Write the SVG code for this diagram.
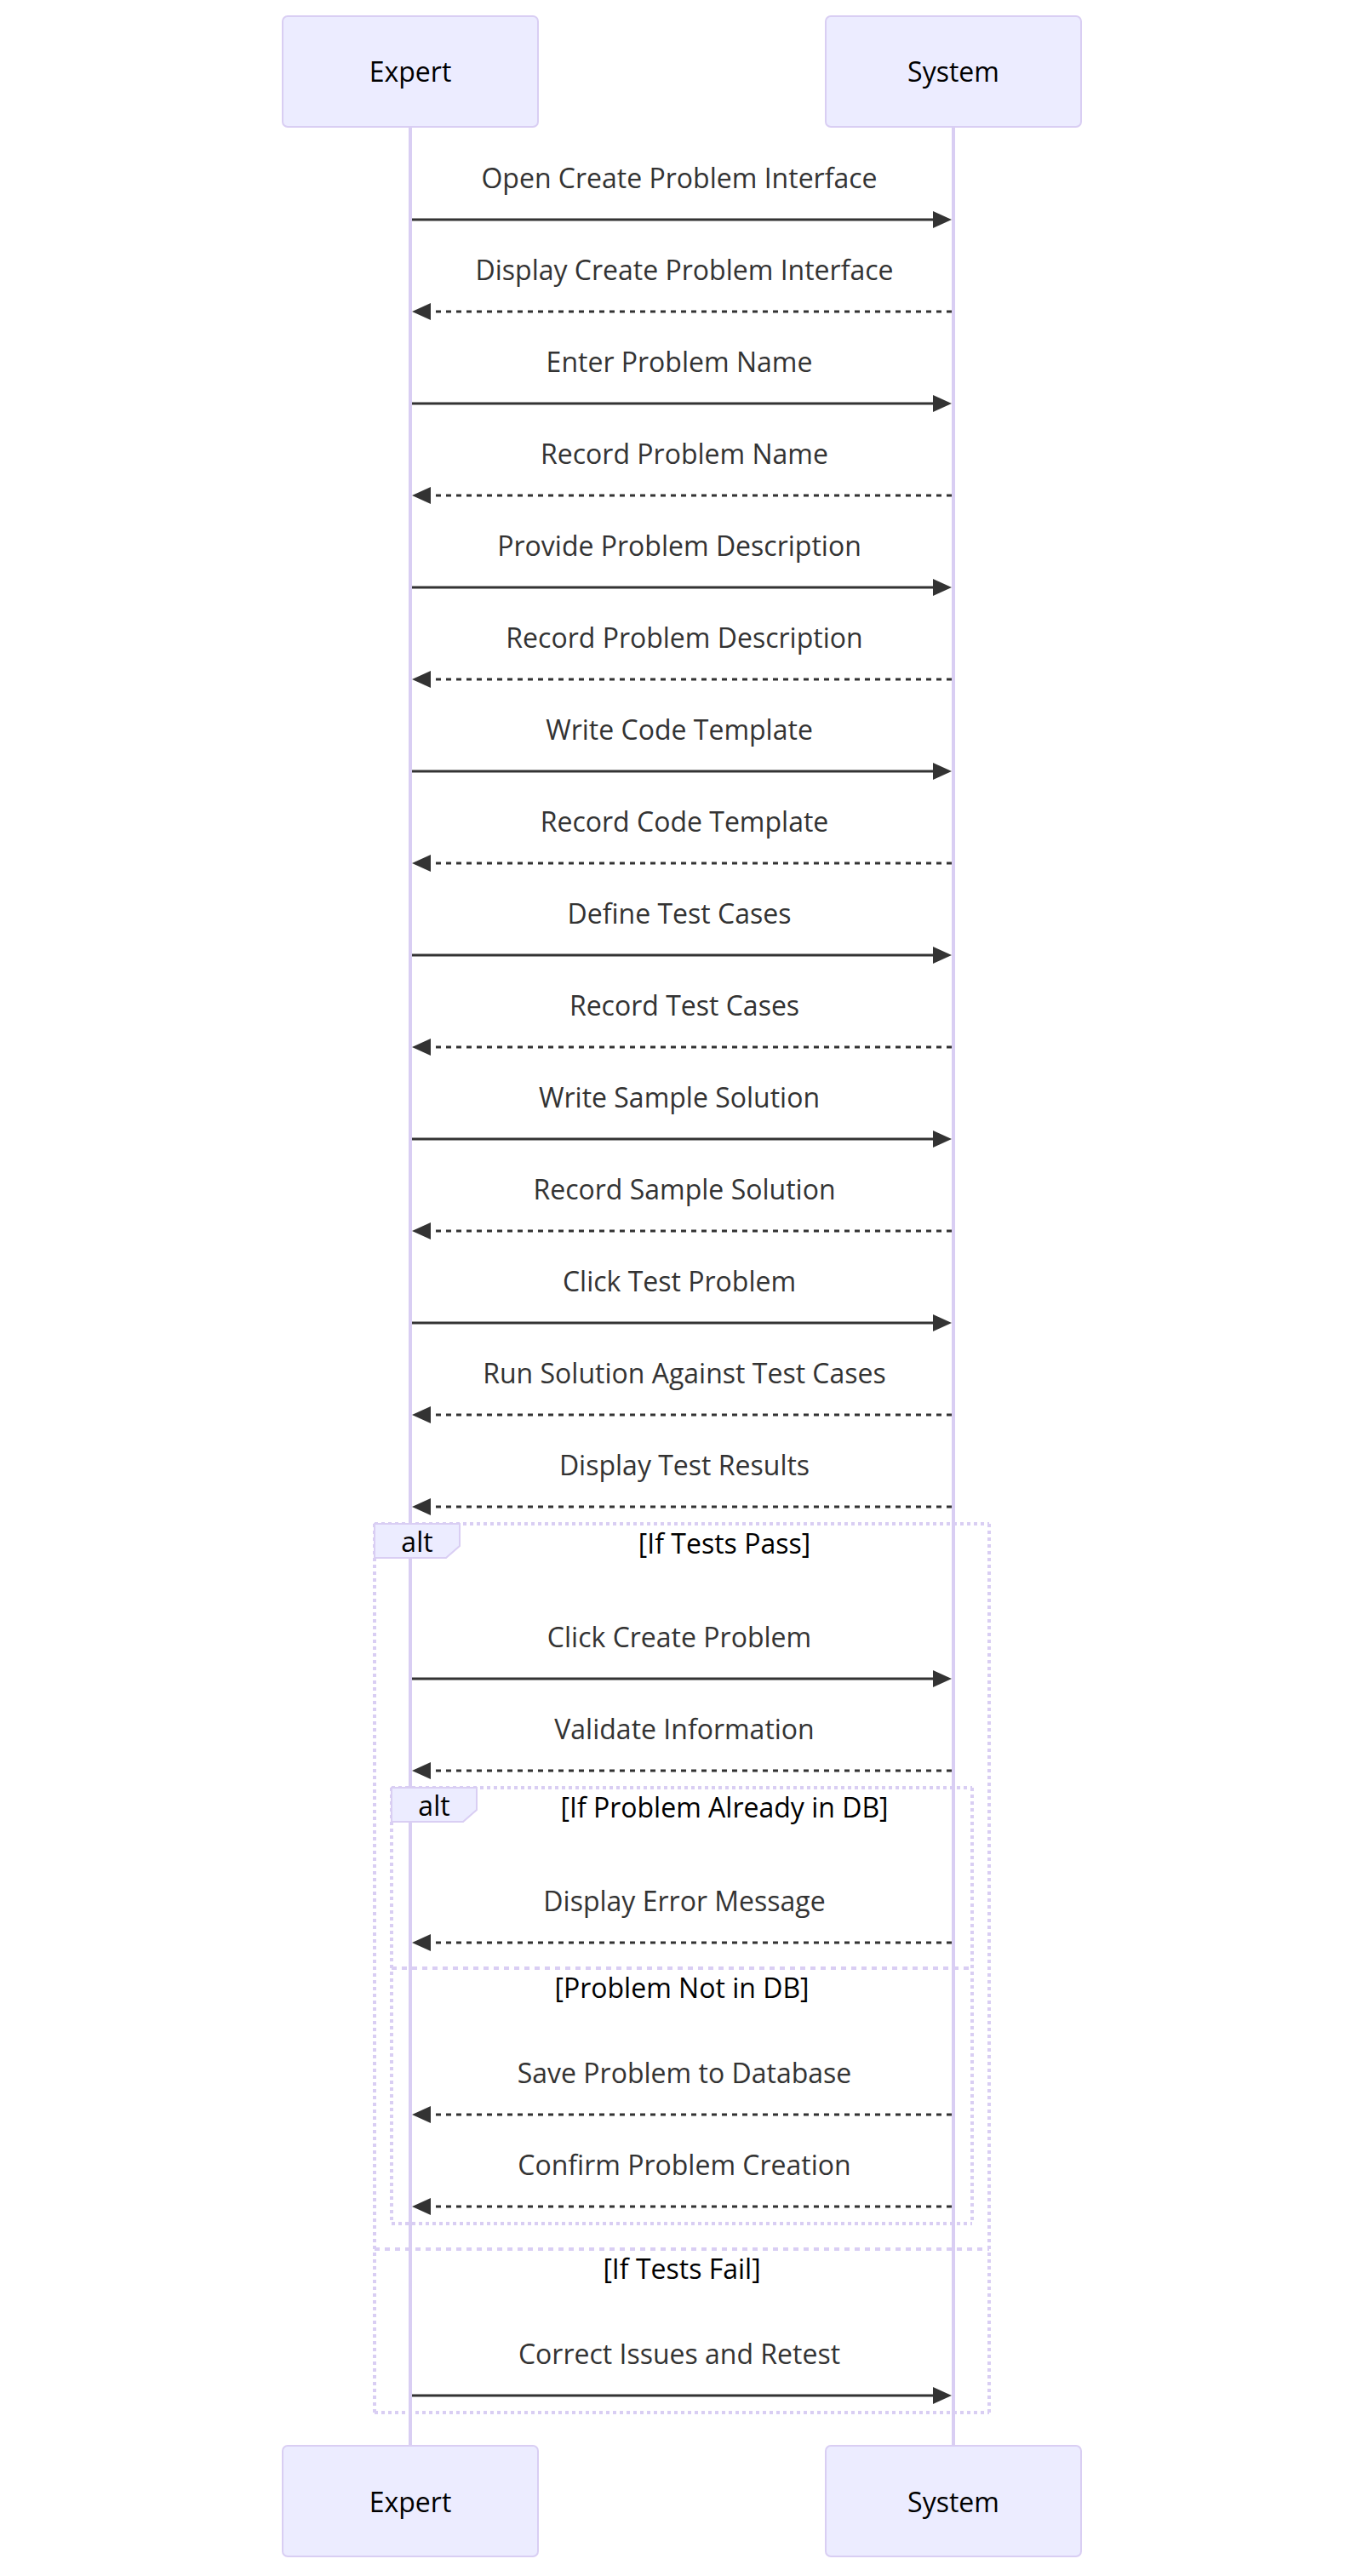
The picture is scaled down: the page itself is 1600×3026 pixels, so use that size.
<svg xmlns="http://www.w3.org/2000/svg" width="1600" height="3026" viewBox="0 0 1600 3026">
<defs>
<style>
.actor{fill:#ECECFF;stroke:#D9CEF3;stroke-width:2}
.atext{font-family:"Open Sans","Noto Sans",sans-serif;font-size:32px;fill:#000;text-anchor:middle}
.life{stroke:#D9CEF3;stroke-width:4}
.msg{stroke:#333;stroke-width:3;fill:none;marker-end:url(#head)}
.dot{stroke-dasharray:6,6}
.mtext{font-family:"Open Sans","Noto Sans",sans-serif;font-size:32px;fill:#333;text-anchor:middle}
.loop{stroke:#D9CEF3;stroke-width:4;stroke-dasharray:4,4;fill:none}
.sep{stroke:#D9CEF3;stroke-width:4;stroke-dasharray:6,6;fill:none}
.lbox{fill:#ECECFF;stroke:#D9CEF3;stroke-width:2}
.ltext{font-family:"Open Sans","Noto Sans",sans-serif;font-size:32px;fill:#000;text-anchor:middle}
</style>
<marker id="head" markerUnits="userSpaceOnUse" viewBox="0 0 22 20" markerWidth="22" markerHeight="20" refX="10" refY="10" orient="auto">
<path d="M0,0 L22,10 L0,20 z" fill="#333"/>
</marker>
</defs>
<rect width="1600" height="3026" fill="#fff"/>
<g id="lifelines">
<line class="life" x1="482" y1="149" x2="482" y2="2873"/>
<line class="life" x1="1120" y1="149" x2="1120" y2="2873"/>
</g>
<g id="actor-expert-top"><rect class="actor" x="332" y="19" width="300" height="130" rx="6"/><text class="atext" x="482" y="96">Expert</text></g>
<g id="actor-system-top"><rect class="actor" x="970" y="19" width="300" height="130" rx="6"/><text class="atext" x="1120" y="96">System</text></g>
<g id="actor-expert-bottom"><rect class="actor" x="332" y="2873" width="300" height="130" rx="6"/><text class="atext" x="482" y="2951">Expert</text></g>
<g id="actor-system-bottom"><rect class="actor" x="970" y="2873" width="300" height="130" rx="6"/><text class="atext" x="1120" y="2951">System</text></g>
<g id="frames">
<g id="alt-outer">
<line class="loop" x1="440" y1="1790" x2="1162" y2="1790"/>
<line class="loop" x1="1162" y1="1790" x2="1162" y2="2834"/>
<line class="loop" x1="440" y1="2834" x2="1162" y2="2834"/>
<line class="loop" x1="440" y1="1790" x2="440" y2="2834"/>
<line class="sep" x1="440" y1="2642" x2="1162" y2="2642"/>
<polygon class="lbox" points="440,1790 540,1790 540,1816 524,1830 440,1830"/>
<text class="ltext" x="490" y="1823">alt</text>
<text class="ltext" x="851" y="1825">[If Tests Pass]</text>
<text class="ltext" x="801" y="2677">[If Tests Fail]</text>
</g>
<g id="alt-inner">
<line class="loop" x1="460" y1="2100" x2="1142" y2="2100"/>
<line class="loop" x1="1142" y1="2100" x2="1142" y2="2612"/>
<line class="loop" x1="460" y1="2612" x2="1142" y2="2612"/>
<line class="loop" x1="460" y1="2100" x2="460" y2="2612"/>
<line class="sep" x1="460" y1="2312" x2="1142" y2="2312"/>
<polygon class="lbox" points="460,2100 560,2100 560,2126 544,2140 460,2140"/>
<text class="ltext" x="510" y="2133">alt</text>
<text class="ltext" x="851" y="2135">[If Problem Already in DB]</text>
<text class="ltext" x="801" y="2347">[Problem Not in DB]</text>
</g>
</g>
<g id="connectors">
<line class="msg" x1="484" y1="258" x2="1106" y2="258"/>
<line class="msg dot" x1="1118" y1="366" x2="496" y2="366"/>
<line class="msg" x1="484" y1="474" x2="1106" y2="474"/>
<line class="msg dot" x1="1118" y1="582" x2="496" y2="582"/>
<line class="msg" x1="484" y1="690" x2="1106" y2="690"/>
<line class="msg dot" x1="1118" y1="798" x2="496" y2="798"/>
<line class="msg" x1="484" y1="906" x2="1106" y2="906"/>
<line class="msg dot" x1="1118" y1="1014" x2="496" y2="1014"/>
<line class="msg" x1="484" y1="1122" x2="1106" y2="1122"/>
<line class="msg dot" x1="1118" y1="1230" x2="496" y2="1230"/>
<line class="msg" x1="484" y1="1338" x2="1106" y2="1338"/>
<line class="msg dot" x1="1118" y1="1446" x2="496" y2="1446"/>
<line class="msg" x1="484" y1="1554" x2="1106" y2="1554"/>
<line class="msg dot" x1="1118" y1="1662" x2="496" y2="1662"/>
<line class="msg dot" x1="1118" y1="1770" x2="496" y2="1770"/>
<line class="msg" x1="484" y1="1972" x2="1106" y2="1972"/>
<line class="msg dot" x1="1118" y1="2080" x2="496" y2="2080"/>
<line class="msg dot" x1="1118" y1="2282" x2="496" y2="2282"/>
<line class="msg dot" x1="1118" y1="2484" x2="496" y2="2484"/>
<line class="msg dot" x1="1118" y1="2592" x2="496" y2="2592"/>
<line class="msg" x1="484" y1="2814" x2="1106" y2="2814"/>
</g>
<g id="message-labels">
<text class="mtext" x="798" y="221">Open Create Problem Interface</text>
<text class="mtext" x="804" y="329">Display Create Problem Interface</text>
<text class="mtext" x="798" y="437">Enter Problem Name</text>
<text class="mtext" x="804" y="545">Record Problem Name</text>
<text class="mtext" x="798" y="653">Provide Problem Description</text>
<text class="mtext" x="804" y="761">Record Problem Description</text>
<text class="mtext" x="798" y="869">Write Code Template</text>
<text class="mtext" x="804" y="977">Record Code Template</text>
<text class="mtext" x="798" y="1085">Define Test Cases</text>
<text class="mtext" x="804" y="1193">Record Test Cases</text>
<text class="mtext" x="798" y="1301">Write Sample Solution</text>
<text class="mtext" x="804" y="1409">Record Sample Solution</text>
<text class="mtext" x="798" y="1517">Click Test Problem</text>
<text class="mtext" x="804" y="1625">Run Solution Against Test Cases</text>
<text class="mtext" x="804" y="1733">Display Test Results</text>
<text class="mtext" x="798" y="1935">Click Create Problem</text>
<text class="mtext" x="804" y="2043">Validate Information</text>
<text class="mtext" x="804" y="2245">Display Error Message</text>
<text class="mtext" x="804" y="2447">Save Problem to Database</text>
<text class="mtext" x="804" y="2555">Confirm Problem Creation</text>
<text class="mtext" x="798" y="2777">Correct Issues and Retest</text>
</g>
</svg>
